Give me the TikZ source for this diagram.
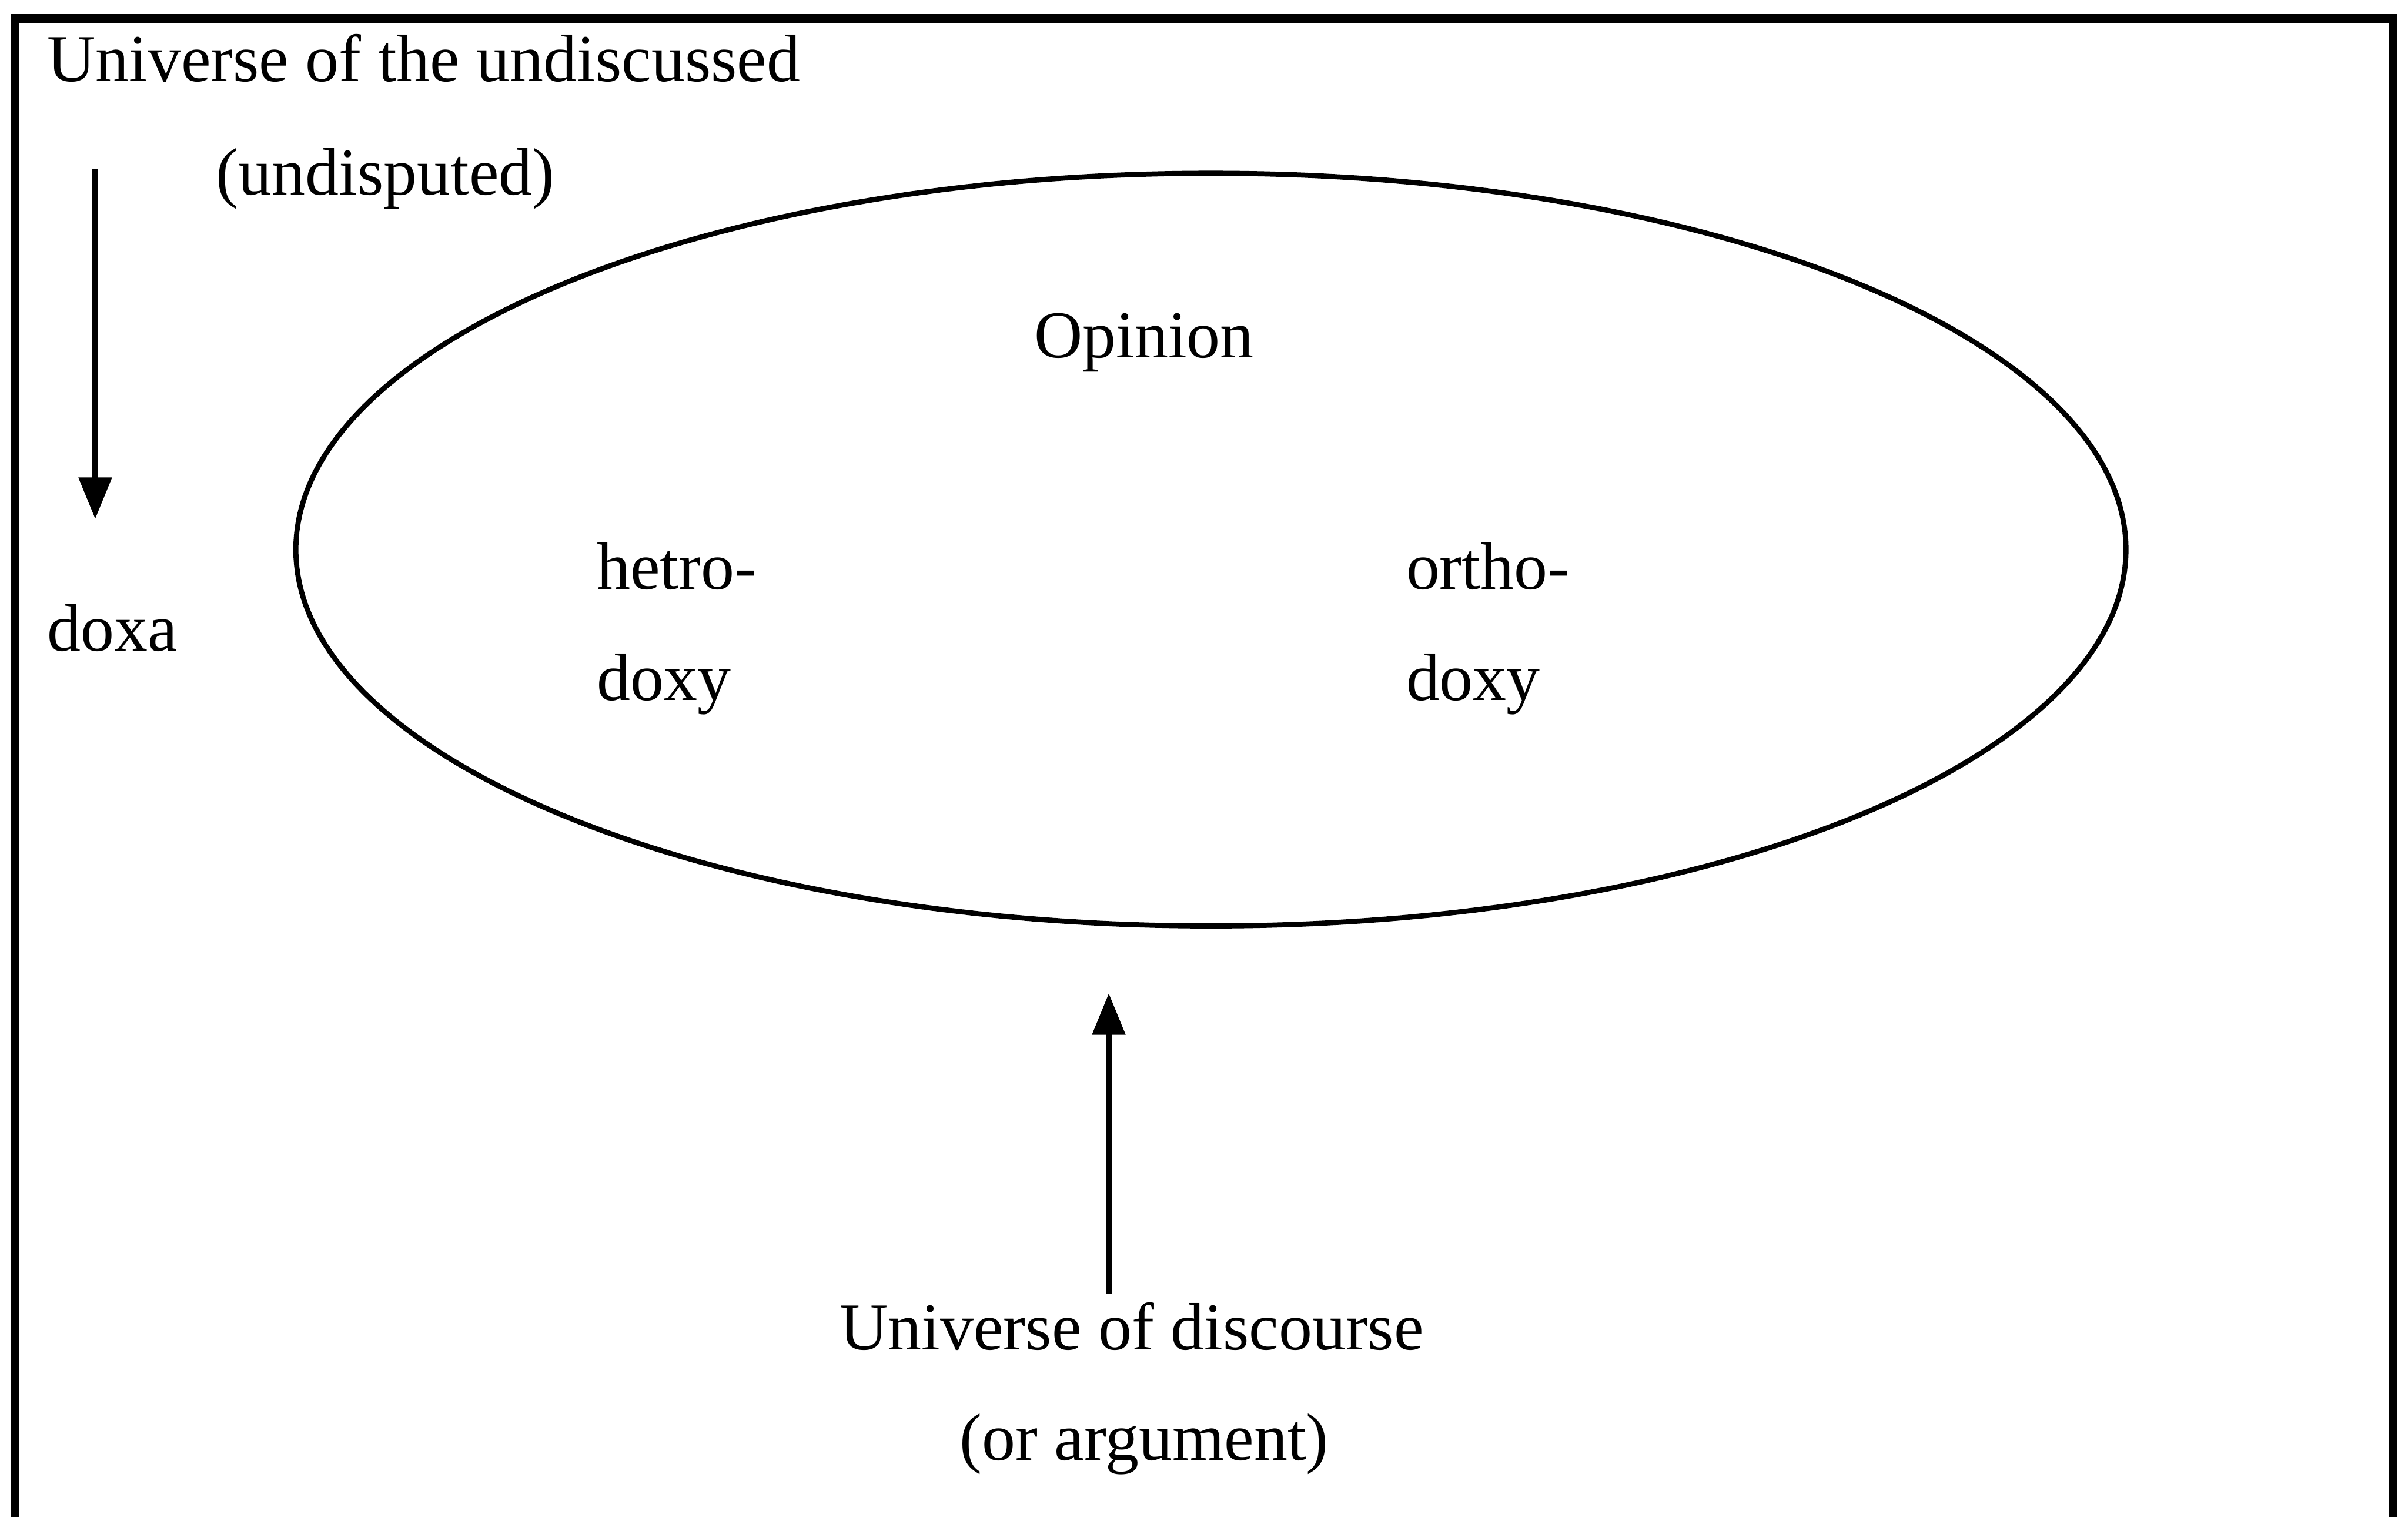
\documentclass[tikz,border=0pt]{standalone}
\usepackage{fontspec}
\setmainfont{Liberation Serif}
\usetikzlibrary{shapes.geometric}
\usetikzlibrary{arrows.meta}
\usetikzlibrary{positioning}
\tikzset{label text/.style={inner sep=0pt, font=\fontsize{12.4}{15}\selectfont},
         frame line/.style={line width=1.6pt},
         field/.style={draw, ellipse, line width=0.95pt, inner sep=0pt,
                       minimum width=11.91cm, minimum height=4.90cm},
         push/.style={line width=1pt, -{Triangle[length=2.7mm, width=2.1mm]}},
         }

\begin{document}
\begin{tikzpicture}[x=0.01cm, y=-0.01cm]
\useasboundingbox (0,0) rectangle (1568,990.4);
\draw[frame line] (10,988) -- (10,12) -- (1558,12) -- (1558,988);
% upper left: the undiscussed
\node[label text, anchor=base west] (undiscussed) at (30,53) {Universe of the undiscussed};
\node[label text, anchor=base] (undisputed) at (251,127) {(undisputed)};
\node[label text, anchor=base west] (doxa) at (30,424) {doxa};
\coordinate (doxafrom) at (62,110);
\coordinate (doxato) at (62,338);
\draw[push] (doxafrom) -- (doxato);
% the field of opinion
\node[field] (opinionfield) at (788.5,358) {};
\node[label text, anchor=base] (opinion) at (745,233) {Opinion};
\node[label text, anchor=base west, align=left] (hetro) at (388,456) {hetro-\\[5.5pt]doxy};
\node[label text, anchor=base west, align=left] (ortho) at (915,456) {ortho-\\[5.5pt]doxy};
% bottom: discourse
\node[label text, anchor=base] (discourse) at (737,879) {Universe of discourse};
\node[label text, anchor=base] (argument) at (745,951) {(or argument)};
\coordinate (discfrom) at (722,843);
\coordinate (discto) at (722,647);
\draw[push] (discfrom) -- (discto);
\end{tikzpicture}
\end{document}
